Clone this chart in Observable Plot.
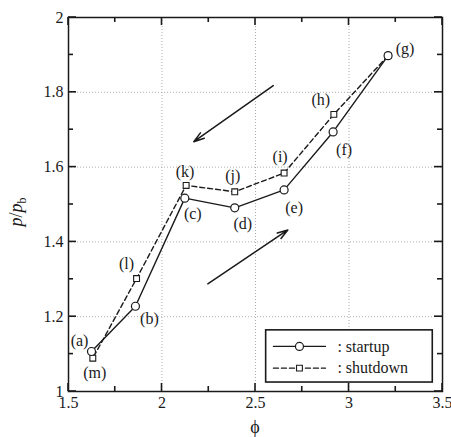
<!DOCTYPE html>
<html>
<head>
<meta charset="utf-8">
<script src="https://cdn.jsdelivr.net/npm/d3@7"></script>
<script src="https://cdn.jsdelivr.net/npm/@observablehq/plot@0.6"></script>
<style>
  html, body { margin: 0; padding: 0; background: #fff; }
  #chart { width: 451px; height: 437px; }
  #chart svg text { font-family: 'Liberation Serif', serif; }
</style>
</head>
<body>
<div id="chart"></div>
<script>
// ---- data ----
const phiStartup = [1.623, 1.858, 2.122, 2.389, 2.653, 2.915, 3.209];
const ratioStartup = [1.107, 1.228, 1.517, 1.491, 1.539, 1.694, 1.898];
const labelsStartup = ["(a)", "(b)", "(c)", "(d)", "(e)", "(f)", "(g)"];

const phiShutdown = [3.209, 2.919, 2.653, 2.389, 2.129, 1.864, 1.630];
const ratioShutdown = [1.898, 1.741, 1.584, 1.534, 1.551, 1.302, 1.089];
const labelsShutdown = ["", "(h)", "(i)", "(j)", "(k)", "(l)", "(m)"];

const xMajorTicks = [1.5, 2, 2.5, 3, 3.5];
const xMinorTicks = [1.75, 2.25, 2.75, 3.25];
const yMajorTicks = [1, 1.2, 1.4, 1.6, 1.8, 2];
const yMinorTicks = [1.1, 1.3, 1.5, 1.7, 1.9];
const xGridTicks = [2, 2.5, 3];
const yGridTicks = [1.2, 1.4, 1.6, 1.8];

// direction arrows (data coordinates)
const arrowPhiFrom = [2.595, 2.245];
const arrowRatioFrom = [1.818, 1.288];
const arrowPhiTo = [2.170, 2.673];
const arrowRatioTo = [1.668, 1.432];

const seriesNames = ["startup", "shutdown"];

// ---- build tables ----
const startup = phiStartup.map((x, i) => ({x, y: ratioStartup[i], label: labelsStartup[i]}));
const shutdown = phiShutdown.map((x, i) => ({x, y: ratioShutdown[i], label: labelsShutdown[i]}));
const arrows = arrowPhiFrom.map((x1, i) => ({x1, y1: arrowRatioFrom[i], x2: arrowPhiTo[i], y2: arrowRatioTo[i]}));

const FONT = "Liberation Serif";
const INK = "#1a1a1a";

const offsets = {
  "(a)": [-12, -11], "(b)": [14, 13], "(c)": [8, 16], "(d)": [8, 16],
  "(e)": [10, 18], "(f)": [11, 18], "(g)": [17, -7],
  "(h)": [-13, -14], "(i)": [-4, -16], "(j)": [-2, -16], "(k)": [-1, -14],
  "(l)": [-10, -15], "(m)": [2, 15]
};
const labelMarks = [...startup, ...shutdown].filter(d => d.label).map(d =>
  Plot.text([d], {x: "x", y: "y", text: "label", dx: offsets[d.label][0], dy: offsets[d.label][1],
    fontSize: 16, fill: INK})
);

const lg = {x1: 2.557, x2: 3.448, y1: 1.024, y2: 1.1635, rows: [1.1206, 1.0625], lx1: 2.596, lx2: 2.874, mx: 2.735, tx: 2.938};
const legendRows = seriesNames.map((name, i) => ({name, y: lg.rows[i]}));
const legendLines = legendRows.flatMap(r => [{name: r.name, x: lg.lx1, y: r.y}, {name: r.name, x: lg.lx2, y: r.y}]);

const plot = Plot.plot({
  width: 451,
  height: 437,
  marginLeft: 68,
  marginRight: 9,
  marginTop: 17,
  marginBottom: 46,
  style: {fontFamily: FONT, fontSize: 16, background: "#fff", color: INK},
  x: {domain: [1.5, 3.5]},
  y: {domain: [1, 2]},
  marks: [
    Plot.gridX(xGridTicks, {stroke: "#999", strokeOpacity: 0.8, strokeDasharray: "1,2"}),
    Plot.gridY(yGridTicks, {stroke: "#999", strokeOpacity: 0.8, strokeDasharray: "1,2"}),
    Plot.axisX(xMajorTicks, {anchor: "bottom", tickSize: 0, tickPadding: 5, fontSize: 16, label: null, tickFormat: d => String(d)}),
    Plot.axisY(yMajorTicks, {anchor: "left", tickSize: 0, tickPadding: 5, fontSize: 16, label: null, tickFormat: d => String(d)}),
    Plot.frame({stroke: INK, strokeWidth: 1.5}),
    Plot.line(shutdown, {x: "x", y: "y", stroke: INK, strokeWidth: 1.4, strokeDasharray: "5,3"}),
    Plot.line(startup, {x: "x", y: "y", stroke: INK, strokeWidth: 1.4}),
    Plot.dot(shutdown, {x: "x", y: "y", symbol: "square", r: 3.3, fill: "#fff", stroke: INK, strokeWidth: 1.1}),
    Plot.dot(startup, {x: "x", y: "y", symbol: "circle", r: 4, fill: "#fff", stroke: INK, strokeWidth: 1.2}),
    ...labelMarks,
    Plot.arrow(arrows, {x1: "x1", y1: "y1", x2: "x2", y2: "y2", stroke: INK, strokeWidth: 1.5, headLength: 11, headAngle: 35}),
    Plot.rect([lg], {x1: "x1", x2: "x2", y1: "y1", y2: "y2", fill: "#fff", stroke: INK, strokeWidth: 1.6}),
    Plot.line(legendLines.filter(d => d.name === "startup"), {x: "x", y: "y", stroke: INK, strokeWidth: 1.4}),
    Plot.line(legendLines.filter(d => d.name === "shutdown"), {x: "x", y: "y", stroke: INK, strokeWidth: 1.4, strokeDasharray: "5,3"}),
    Plot.dot(legendRows.filter(d => d.name === "startup"), {x: () => lg.mx, y: "y", symbol: "circle", r: 4, fill: "#fff", stroke: INK, strokeWidth: 1.2}),
    Plot.dot(legendRows.filter(d => d.name === "shutdown"), {x: () => lg.mx, y: "y", symbol: "square", r: 3.3, fill: "#fff", stroke: INK, strokeWidth: 1.1}),
    Plot.text(legendRows, {x: () => lg.tx, y: "y", text: d => ": " + d.name, textAnchor: "start", fontSize: 16, fill: INK})
  ]
});

document.getElementById("chart").appendChild(plot);

const svg = d3.select(plot);
const sx = plot.scale("x"), sy = plot.scale("y");
const [X0, X1] = sx.range, [Y0, Y1] = sy.range;

// inward ticks on all four sides, positioned through Plot's scales
const tg = svg.append("g").attr("stroke", INK).attr("stroke-width", 1.6);
for (const [vals, len] of [[xMajorTicks, 8], [xMinorTicks, 5]]) {
  for (const v of vals) {
    const px = sx.apply(v);
    tg.append("line").attr("x1", px).attr("x2", px).attr("y1", Y0).attr("y2", Y0 - len);
    tg.append("line").attr("x1", px).attr("x2", px).attr("y1", Y1).attr("y2", Y1 + len);
  }
}
for (const [vals, len] of [[yMajorTicks, 8], [yMinorTicks, 5]]) {
  for (const v of vals) {
    const py = sy.apply(v);
    tg.append("line").attr("y1", py).attr("y2", py).attr("x1", X0).attr("x2", X0 + len);
    tg.append("line").attr("y1", py).attr("y2", py).attr("x1", X1).attr("x2", X1 - len);
  }
}

const yt = svg.append("text")
  .attr("transform", "translate(22,212) rotate(-90)")
  .attr("text-anchor", "middle")
  .attr("font-size", 18)
  .attr("fill", INK);
yt.append("tspan").attr("font-style", "italic").text("p");
yt.append("tspan").text("/");
yt.append("tspan").attr("font-style", "italic").text("p");
yt.append("tspan").attr("font-size", 12).attr("dy", 4).text("b");

svg.append("text")
  .attr("x", 255).attr("y", 433)
  .attr("text-anchor", "middle")
  .attr("font-size", 18)
  .attr("fill", INK)
  .text("ϕ");
</script>
</body>
</html>
